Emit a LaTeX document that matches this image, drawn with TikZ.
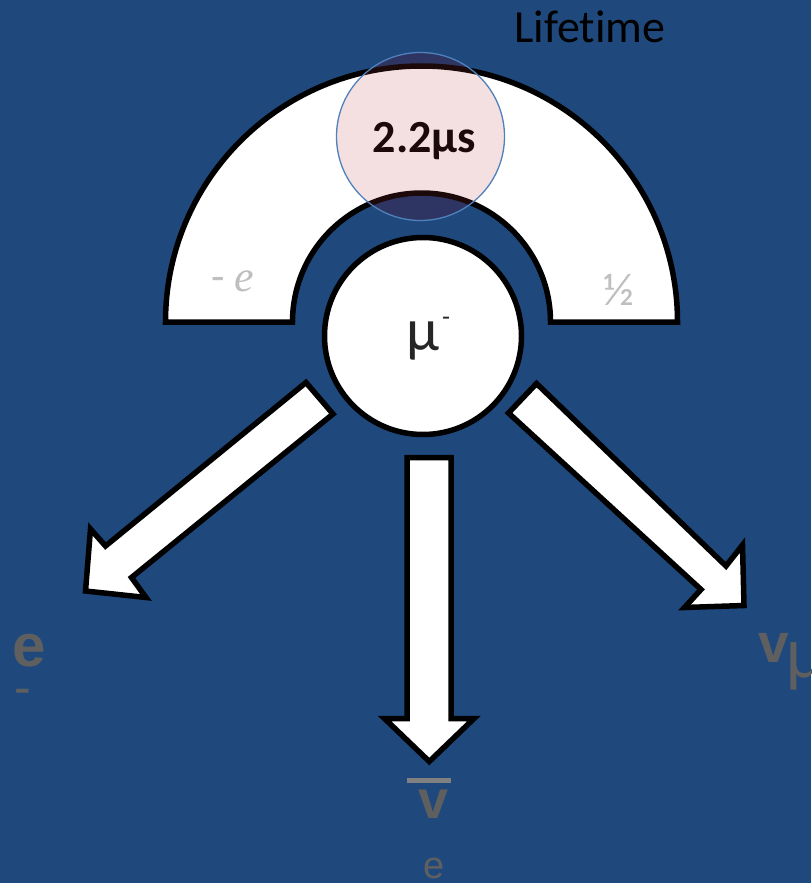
\documentclass[tikz,border=0pt]{standalone}
\usepackage{fontspec}
\setmainfont[Ligatures={NoCommon}]{Carlito}
\newfontfamily\arialf{Liberation Sans}
\newfontfamily\seriff{Liberation Serif}
\definecolor{bg}{HTML}{1F497D}
\definecolor{pinkf}{HTML}{F4E0E0}
\definecolor{overlap}{HTML}{2F3563}
\definecolor{ringblue}{HTML}{4F81BD}
\definecolor{darktxt}{HTML}{1C0A0A}
\definecolor{mutxt}{HTML}{262626}
\definecolor{lbl}{HTML}{5F5F5F}
\definecolor{lightlbl}{HTML}{BFBFBF}
\definecolor{barc}{HTML}{808080}
\tikzset{
  blockshape/.style={draw=black,fill=white,line width=5.5pt,line join=miter},
  txt/.style={inner sep=0pt,anchor=base},
}
\newcommand{\archpath}{(165.5,322) arc[start angle=180,end angle=360,radius=256] -- (550.5,322) arc[start angle=360,end angle=180,radius=129] -- cycle}
\begin{document}
\begin{tikzpicture}[x=1pt,y=-1pt]
\useasboundingbox (0,0) rectangle (811,883);
\fill[bg] (0,0) rectangle (811,883);
% arch
\draw[blockshape] \archpath;
% lifetime circle overlap
\begin{scope}
  \clip (420.5,136.5) circle[radius=84];
  \fill[overlap] (420.5,136.5) circle[radius=84];
  \fill[pinkf] \archpath;
  \draw[line width=5.5pt,color=darktxt] \archpath;
\end{scope}
\node[circle,draw=ringblue,line width=1.3pt,minimum size=168pt,inner sep=0pt] (life) at (420.5,136.5) {};
\node[txt,text=darktxt,font=\fontsize{46}{50}\selectfont\bfseries] (lifeval) at (424.5,152) {2.2μs};
\node[txt,text=black,font=\fontsize{46}{50}\selectfont] (lifetitle) at (590,43) {Lifetime};
% arch labels
\node[txt,text=lightlbl,font=\fontsize{44}{48}\selectfont] (charge) at (233,291) {- {\seriff\itshape e}};
\node[txt,text=lightlbl,font=\fontsize{46}{50}\selectfont] (spin) at (619,305) {½};
% muon circle
\node[circle,draw=black,fill=white,line width=5.5pt,minimum size=197pt,inner sep=0pt] (mu) at (423,336) {};
\node[txt,text=mutxt,font=\fontsize{60}{64}\selectfont] (mulbl) at (423,350) {μ};
\node[txt,text=mutxt,font=\fontsize{26}{30}\selectfont] (mumin) at (446,325) {-};
% arrows
\draw[blockshape] (306,382.5) -- (333,414) -- (131.5,577.5) -- (146,597.5) -- (85.5,591) -- (90.5,529) -- (105.5,546) -- cycle;
\draw[blockshape] (407,457.5) -- (451,457.5) -- (451,718.5) -- (474,718.5) -- (429.3,761.5) -- (384.5,718.5) -- (407,718.5) -- cycle;
\draw[blockshape] (508.5,413) -- (536.5,383.5) -- (726,566) -- (742.5,545) -- (744,605.5) -- (684.5,607.5) -- (701,589.5) -- cycle;
% decay product labels
\node[txt,text=lbl,font=\fontsize{60}{64}\selectfont\arialf\bfseries] (elbl) at (29,666) {e};
\node[txt,text=lbl,font=\fontsize{50}{54}\selectfont\arialf] (emin) at (23,704) {-};
\draw[barc,line width=5pt] (407,780.5) coordinate (barl) -- (451,780.5) coordinate (barr);
\node[txt,text=lbl,font=\fontsize{54}{58}\selectfont\arialf\bfseries] (nuebar) at (434,818) {v};
\node[txt,text=lbl,font=\fontsize{38}{42}\selectfont\arialf] (nuesub) at (434,878) {e};
\node[txt,text=lbl,font=\fontsize{55}{59}\selectfont\arialf\bfseries] (numu) at (773.5,662) {v};
\node[inner sep=0pt,anchor=base west,text=lbl,font=\fontsize{66}{70}\selectfont\arialf] (numusub) at (786,677) {μ};
\end{tikzpicture}
\end{document}
